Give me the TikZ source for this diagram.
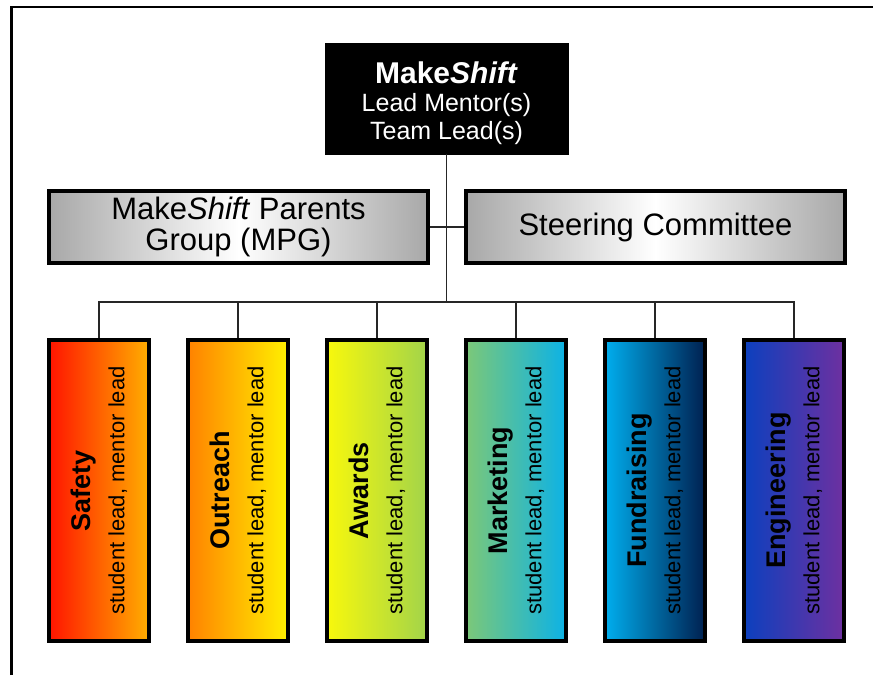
\documentclass[tikz,border=0pt]{standalone}
\usepackage{fontspec}
\setmainfont{Liberation Sans}
\usetikzlibrary{positioning}
% side colours of the shaded team boxes (left / right)
\definecolor{safetyL}{HTML}{FF1400}
\definecolor{safetyR}{HTML}{FFAE00}
\definecolor{outreachL}{HTML}{FF8200}
\definecolor{outreachR}{HTML}{FFF000}
\definecolor{awardsL}{HTML}{F8F80C}
\definecolor{awardsR}{HTML}{A2D44A}
\definecolor{marketingL}{HTML}{7CC878}
\definecolor{marketingR}{HTML}{0CB2E6}
\definecolor{fundL}{HTML}{00AEEE}
\definecolor{fundR}{HTML}{002050}
\definecolor{engL}{HTML}{0C40BE}
\definecolor{engR}{HTML}{6E30A0}
\definecolor{greyside}{HTML}{A8A8A8}

\begin{document}
\begin{tikzpicture}[
  x=1pt, y=-1pt,
  frame/.style={line width=2.5pt, draw=black},
  link/.style={line width=1.8pt, draw=black!85},
  leadbox/.style={draw=black, fill=black, text=white, align=center, inner sep=0pt,
    minimum width=243pt, minimum height=111pt, font=\fontsize{25}{28}\selectfont},
  greybox/.style={draw=black, line width=4pt, left color=greyside, right color=greyside,
    middle color=white, align=center, inner sep=0pt, minimum width=379pt,
    minimum height=72pt, font=\fontsize{31}{31}\selectfont},
  teambox/.style={draw=black, line width=4pt, rotate=90, align=center, inner sep=0pt,
    minimum width=301pt, minimum height=100pt, font=\fontsize{22}{34}\selectfont},
]
\useasboundingbox (0,0) rectangle (873,675);

% ---------- page frame ----------
\draw[frame] (11.5,675) -- (11.5,7) -- (873,7);

% ---------- top: lead box ----------
\node[leadbox] (lead) at (446.5,98.5) {};
\node[text=white, align=center, font=\fontsize{25}{28}\selectfont] (leadtext) at (446.5,103)
  {{\fontsize{30}{30}\selectfont\bfseries Make\textit{Shift}}\\Lead Mentor(s)\\Team Lead(s)};

% ---------- middle row ----------
\node[greybox] (mpg) at (238.5,227) {Make\textit{Shift} Parents\\Group (MPG)};
\node[greybox, right=34pt of mpg] (steer) {Steering Committee};

% ---------- team boxes (rotated, so .east is the top edge) ----------
\foreach \id/\xc/\title/\lcol/\rcol in {%
  safety/99/Safety/safetyL/safetyR,
  outreach/238/Outreach/outreachL/outreachR,
  awards/377/Awards/awardsL/awardsR,
  marketing/516/Marketing/marketingL/marketingR,
  fundraising/655/Fundraising/fundL/fundR,
  engineering/794/Engineering/engL/engR%
} {
  \node[teambox, left color=\lcol, right color=\rcol] (\id) at (\xc,490.5)
    {{\fontsize{27}{34}\selectfont\bfseries \title}\\student lead, mentor lead};
}

% ---------- connectors ----------
\coordinate (busline) at (0,302);
\coordinate (hub) at (lead.south |- busline);
\draw[link] (lead.south) -- (hub);
\draw[link] (mpg.east) -- (steer.west);
\foreach \id in {safety,outreach,awards,marketing,fundraising,engineering}
  \draw[link] (hub) -| (\id.east);
\end{tikzpicture}
\end{document}
